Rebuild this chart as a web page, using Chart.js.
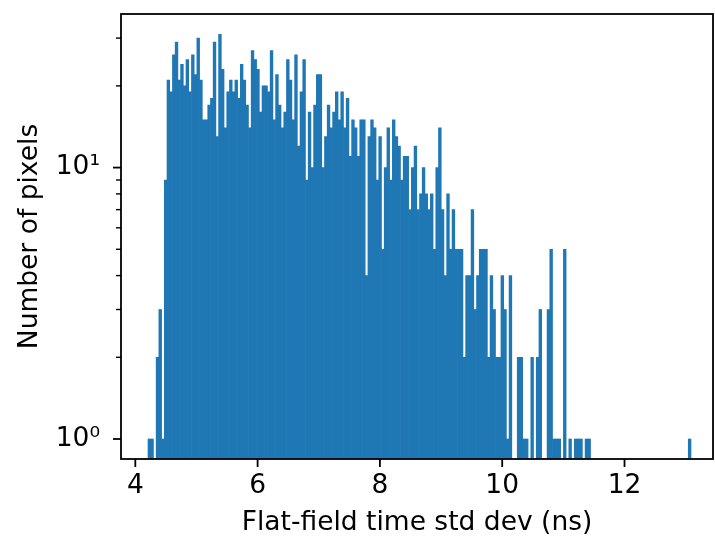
<!DOCTYPE html>
<html><head><meta charset="utf-8">
<script src="https://cdn.jsdelivr.net/npm/chart.js@4.4.0/dist/chart.umd.min.js"></script>
<style>html,body{margin:0;padding:0;background:#fff;}#wrap{width:715px;height:540px;}</style>
</head><body><div id="wrap"><canvas id="c" width="715" height="540"></canvas></div>
<script>
// Histogram: 200 equal bins between histMin and histMax
const histMin = 4.2077;
const histMax = 13.087;
const binCounts = [
  1,1,0,2,3,1,9,21,19,26,
  29,21,24,20,25,19,26,22,30,21,
  15,15,17,18,29,13,31,23,14,19,
  21,19,21,18,24,21,17,14,27,25,
  23,16,20,20,19,27,15,22,17,14,
  16,25,21,15,26,12,19,25,9,16,
  10,17,22,22,10,13,17,14,16,19,
  15,19,14,18,11,15,14,11,15,15,
  4,13,15,14,9,13,5,10,14,9,
  15,13,12,9,11,11,7,10,12,7,
  8,10,8,7,8,5,10,14,7,4,
  8,5,7,5,5,5,2,4,4,7,
  3,4,5,5,5,2,4,3,2,2,
  4,3,1,4,0,0,2,2,1,1,
  0,2,0,2,3,0,0,3,5,1,
  1,1,0,5,0,1,0,1,1,1,
  0,1,1,0,0,0,0,0,0,0,
  0,0,0,0,0,0,0,0,0,0,
  0,0,0,0,0,0,0,0,0,0,
  0,0,0,0,0,0,0,0,0,1
];
const xTicks = [4, 6, 8, 10, 12];
const yMajorTicks = [1, 10];
const yTickLabels = ['10\u2070', '10\u00B9'];
const yMinorTicks = [2, 3, 4, 5, 6, 7, 8, 9, 20, 30];
const xRange = [3.766, 13.447];
const yRange = [0.844, 36.8];
const xTitle = 'Flat-field time std dev (ns)';
const yTitle = 'Number of pixels';

const binWidth = (histMax - histMin) / binCounts.length;
const points = binCounts.map((c, i) => ({ x: histMin + (i + 0.5) * binWidth, y: c > 0 ? c : null }));

const FONT = 'DejaVu Sans';
const FSIZE = 26.5;
const framePlugin = {
  id: 'frame',
  afterDraw(chart) {
    const { ctx, chartArea: a, scales } = chart;
    const x = scales.x, y = scales.y;
    ctx.save();
    ctx.strokeStyle = '#000';
    ctx.lineCap = 'butt';
    const seg = (x1, y1, x2, y2) => { ctx.beginPath(); ctx.moveTo(x1, y1); ctx.lineTo(x2, y2); ctx.stroke(); };
    ctx.lineWidth = 1.8;
    xTicks.forEach(v => { const p = x.getPixelForValue(v); seg(p, a.bottom, p, a.bottom + 8); });
    yMajorTicks.forEach(v => { const p = y.getPixelForValue(v); seg(a.left, p, a.left - 8, p); });
    ctx.lineWidth = 1.4;
    yMinorTicks.forEach(v => { const p = y.getPixelForValue(v); seg(a.left, p, a.left - 5, p); });
    ctx.lineWidth = 1.8;
    ctx.strokeRect(a.left, a.top, a.right - a.left, a.bottom - a.top);
    ctx.restore();
  }
};

new Chart(document.getElementById('c').getContext('2d'), {
  type: 'bar',
  data: {
    datasets: [{
      data: points,
      backgroundColor: '#1f77b4',
      borderWidth: 0,
      barPercentage: 1,
      categoryPercentage: 1
    }]
  },
  options: {
    responsive: false,
    animation: false,
    devicePixelRatio: 1,
    layout: { padding: { top: 14, right: 2, left: 0, bottom: 0 } },
    plugins: { legend: { display: false }, tooltip: { enabled: false } },
    scales: {
      x: {
        type: 'linear',
        min: xRange[0], max: xRange[1],
        offset: false,
        grid: { display: false, drawTicks: false },
        border: { display: false },
        afterBuildTicks: s => { s.ticks = xTicks.map(v => ({ value: v })); },
        afterFit: s => { s.height = 81; s.paddingLeft = 0; s.paddingRight = 0; },
        ticks: {
          color: '#000', font: { family: FONT, size: FSIZE }, padding: 11,
          maxRotation: 0, autoSkip: false,
          callback: v => String(v)
        },
        title: {
          display: true, text: xTitle, color: '#000',
          font: { family: FONT, size: FSIZE }, padding: { top: 0, bottom: 1 }
        }
      },
      y: {
        type: 'logarithmic',
        min: yRange[0], max: yRange[1],
        grid: { display: false, drawTicks: false },
        border: { display: false },
        afterBuildTicks: s => { s.ticks = yMajorTicks.map(v => ({ value: v })); },
        afterFit: s => { s.width = 121; s.paddingTop = 0; s.paddingBottom = 0; },
        ticks: {
          color: '#000', font: { family: FONT, size: FSIZE }, padding: 21,
          autoSkip: false,
          callback: (v) => yTickLabels[yMajorTicks.indexOf(v)] || ''
        },
        title: {
          display: true, text: yTitle, color: '#000',
          font: { family: FONT, size: FSIZE }, padding: { top: 14, bottom: 0 }
        }
      }
    }
  },
  plugins: [framePlugin]
});
</script>
</body></html>
